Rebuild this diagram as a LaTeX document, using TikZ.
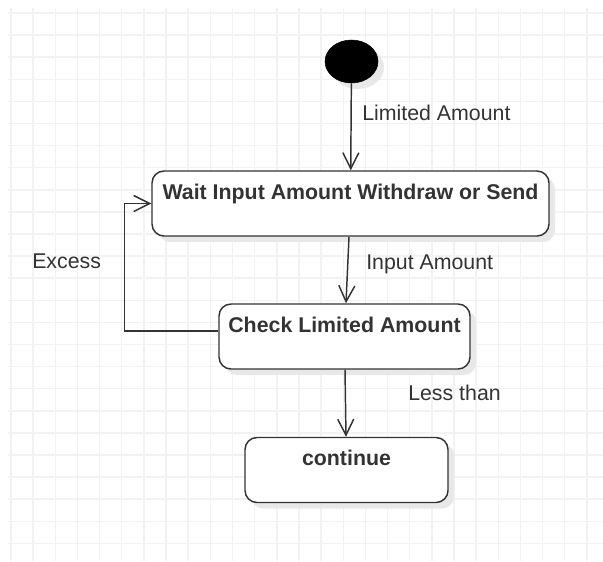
\documentclass[tikz,border=0pt]{standalone}
\usepackage{fontspec}
\setmainfont{Liberation Sans}
\usetikzlibrary{arrows.meta,calc,positioning,shadows,shapes.geometric}
\tikzset{%
  arrow/.style={draw=ink, line width=1.1pt, -{Straight Barb[length=12pt,width=12pt]}},
  edgetext/.style={anchor=west, text=ink, inner sep=0pt, font=\fontsize{16}{19}\selectfont},
}
\definecolor{ink}{HTML}{333333}
\definecolor{gridline}{HTML}{F2F2F2}

\begin{document}
\begin{tikzpicture}[x=0.75pt, y=-0.75pt,
    state/.style={rectangle, rounded corners=9pt, draw=ink, line width=1.1pt,
      fill=white, text=ink, inner sep=0pt, text height=21pt, text depth=27.75pt,
      font=\fontsize{16}{19}\selectfont\bfseries,
      drop shadow={shadow xshift=4.5pt, shadow yshift=-4.5pt, fill=black!9, opacity=1}},
    initial/.style={ellipse, draw=black, fill=black, inner sep=0pt,
      minimum width=39.75pt, minimum height=32.25pt,
      drop shadow={shadow xshift=4.5pt, shadow yshift=-4.5pt, fill=black!9, opacity=1}}]

    \useasboundingbox (0,0) rectangle (603,561);
    \fill[white] (0,0) rectangle (603,561);

    % background grid
    \foreach \gx in {0,...,26}
      \draw[gridline, line width=1.1pt] (11+22.15*\gx,8) -- (11+22.15*\gx,561);
    \foreach \gy in {0,...,24}
      \draw[gridline, line width=1.1pt] (8,13+22.1*\gy) -- (603,13+22.1*\gy);

    \node[initial] (start) at (351.5,61.5) {};
    \node[state, minimum width=297.75pt] (wait) at (350.5,203.5) {Wait Input Amount Withdraw or Send};
    \node[state, minimum width=188.25pt] (check) at (344.5,336.5) {Check Limited Amount};
    \node[state, minimum width=152.25pt] (cont) at (346.5,470) {continue};

    \draw[arrow] (start) -- (wait);
    \draw[arrow] (wait) -- (check);
    \draw[arrow] (check) -- (cont);
    \draw[arrow] ([yshift=4pt]check.west) -- ++(-94,0) |- (wait.west);

    \node[edgetext] (limited) at (362,113) {Limited Amount};
    \node[edgetext] (input) at (366,264) {Input Amount};
    \node[edgetext] (excess) at (32,261) {Excess};
    \node[edgetext] (less) at (408,393) {Less than};
  \end{tikzpicture}
\end{document}
